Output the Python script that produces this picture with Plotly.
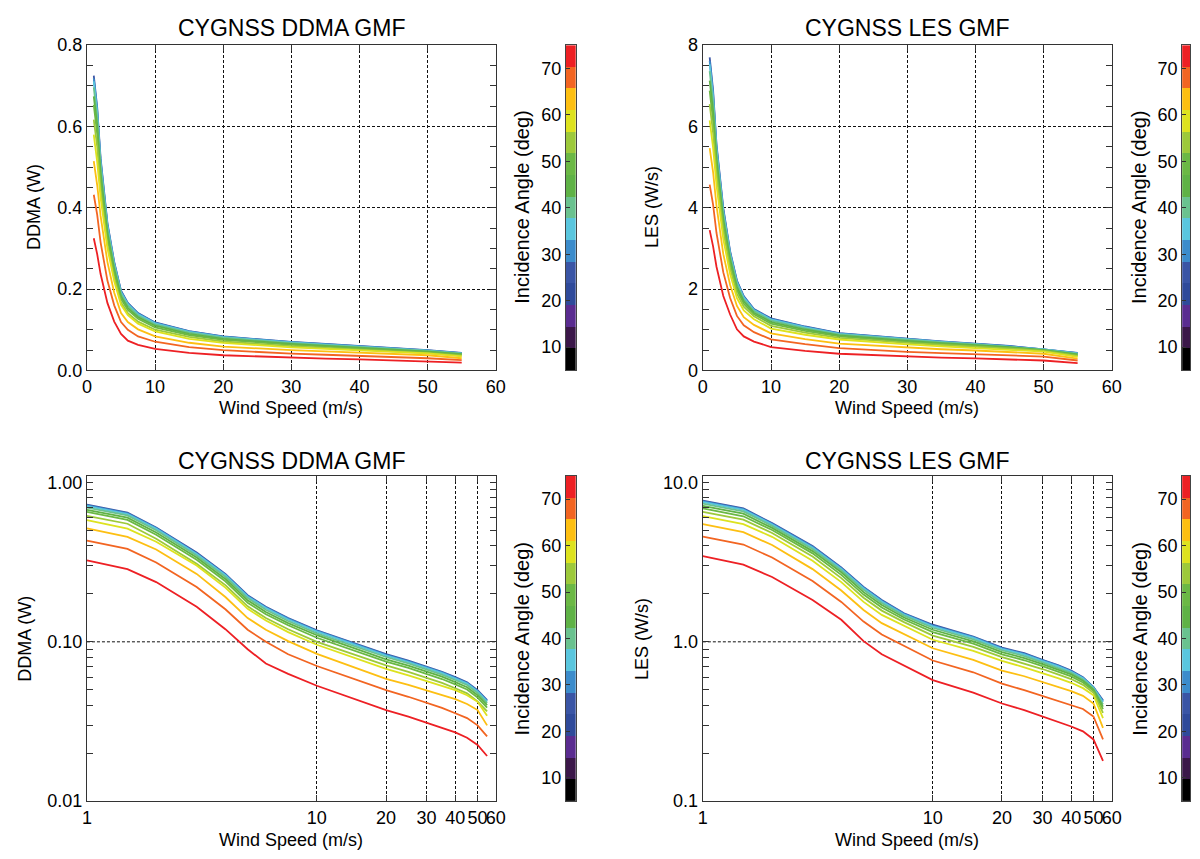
import plotly.graph_objects as go

# ---------------------------------------------------------------- data
wind_speed = [1, 1.5, 2, 3, 4, 5, 6, 7.5, 10, 15, 20, 25, 30, 35, 40, 45, 50, 55]

# incidence angle (deg) of each GMF curve
incidence_angle = [26, 31, 35, 40, 45, 49, 54, 59, 63, 68, 73]

# DDMA GMF (W), one list per incidence angle
ddma_26 = [0.725, 0.647, 0.522, 0.363, 0.267, 0.196, 0.166, 0.141, 0.118, 0.0968, 0.0836, 0.0762, 0.0700, 0.0649, 0.0600, 0.0558, 0.0497, 0.0430]
ddma_31 = [0.718, 0.641, 0.517, 0.359, 0.264, 0.194, 0.164, 0.140, 0.117, 0.0958, 0.0828, 0.0754, 0.0693, 0.0643, 0.0594, 0.0552, 0.0492, 0.0426]
ddma_35 = [0.711, 0.634, 0.512, 0.356, 0.262, 0.192, 0.163, 0.138, 0.116, 0.0949, 0.0819, 0.0747, 0.0686, 0.0636, 0.0588, 0.0547, 0.0487, 0.0421]
ddma_40 = [0.696, 0.621, 0.501, 0.348, 0.256, 0.188, 0.159, 0.135, 0.113, 0.0929, 0.0803, 0.0732, 0.0672, 0.0623, 0.0576, 0.0536, 0.0477, 0.0413]
ddma_45 = [0.674, 0.602, 0.485, 0.338, 0.248, 0.182, 0.154, 0.131, 0.110, 0.0900, 0.0777, 0.0709, 0.0651, 0.0604, 0.0558, 0.0519, 0.0462, 0.0400]
ddma_49 = [0.653, 0.582, 0.470, 0.327, 0.240, 0.176, 0.149, 0.127, 0.106, 0.0871, 0.0752, 0.0686, 0.0630, 0.0584, 0.0540, 0.0502, 0.0447, 0.0387]
ddma_54 = [0.617, 0.551, 0.444, 0.309, 0.227, 0.167, 0.141, 0.120, 0.100, 0.0824, 0.0711, 0.0648, 0.0596, 0.0552, 0.0511, 0.0475, 0.0423, 0.0366]
ddma_59 = [0.580, 0.513, 0.425, 0.301, 0.219, 0.161, 0.136, 0.115, 0.0958, 0.0778, 0.0676, 0.0616, 0.0566, 0.0531, 0.0497, 0.0462, 0.0420, 0.0344]
ddma_63 = [0.515, 0.456, 0.380, 0.267, 0.191, 0.141, 0.119, 0.101, 0.0840, 0.0680, 0.0586, 0.0537, 0.0497, 0.0466, 0.0437, 0.0407, 0.0373, 0.0299]
ddma_68 = [0.432, 0.383, 0.315, 0.221, 0.160, 0.119, 0.100, 0.0836, 0.0705, 0.0575, 0.0497, 0.0452, 0.0414, 0.0385, 0.0356, 0.0332, 0.0299, 0.0255]
ddma_73 = [0.325, 0.286, 0.237, 0.166, 0.120, 0.0898, 0.0731, 0.0629, 0.0530, 0.0432, 0.0373, 0.0339, 0.0309, 0.0289, 0.0270, 0.0250, 0.0225, 0.0192]

# LES GMF (W/s), one list per incidence angle
les_26 = [7.70, 6.89, 5.56, 3.99, 2.93, 2.21, 1.83, 1.51, 1.28, 1.080, 0.919, 0.848, 0.771, 0.715, 0.659, 0.600, 0.520, 0.430]
les_31 = [7.61, 6.81, 5.50, 3.95, 2.90, 2.19, 1.81, 1.50, 1.266, 1.069, 0.910, 0.839, 0.764, 0.708, 0.654, 0.595, 0.517, 0.424]
les_35 = [7.53, 6.73, 5.45, 3.90, 2.87, 2.16, 1.79, 1.48, 1.25, 1.058, 0.901, 0.831, 0.757, 0.702, 0.648, 0.590, 0.514, 0.417]
les_40 = [7.36, 6.58, 5.34, 3.82, 2.81, 2.12, 1.75, 1.46, 1.225, 1.036, 0.885, 0.814, 0.742, 0.688, 0.638, 0.581, 0.509, 0.405]
les_45 = [7.13, 6.37, 5.19, 3.71, 2.73, 2.05, 1.70, 1.42, 1.19, 1.006, 0.861, 0.791, 0.724, 0.671, 0.624, 0.570, 0.501, 0.392]
les_49 = [6.88, 6.14, 5.03, 3.59, 2.63, 1.98, 1.64, 1.38, 1.15, 0.973, 0.835, 0.766, 0.703, 0.651, 0.607, 0.556, 0.492, 0.378]
les_54 = [6.55, 5.84, 4.82, 3.43, 2.51, 1.89, 1.57, 1.33, 1.095, 0.930, 0.802, 0.733, 0.675, 0.625, 0.584, 0.537, 0.479, 0.358]
les_59 = [6.15, 5.48, 4.56, 3.23, 2.37, 1.78, 1.475, 1.26, 1.03, 0.877, 0.760, 0.692, 0.638, 0.591, 0.553, 0.512, 0.462, 0.332]
les_63 = [5.47, 4.88, 4.05, 2.86, 2.10, 1.585, 1.31, 1.12, 0.911, 0.771, 0.659, 0.608, 0.558, 0.520, 0.490, 0.458, 0.410, 0.288]
les_68 = [4.57, 4.08, 3.38, 2.41, 1.78, 1.34, 1.11, 0.94, 0.763, 0.644, 0.546, 0.497, 0.458, 0.427, 0.401, 0.379, 0.340, 0.244]
les_73 = [3.45, 3.05, 2.55, 1.83, 1.375, 1.01, 0.836, 0.708, 0.575, 0.480, 0.410, 0.373, 0.340, 0.316, 0.294, 0.274, 0.244, 0.179]

ddma_curves = [ddma_26, ddma_31, ddma_35, ddma_40, ddma_45, ddma_49, ddma_54, ddma_59, ddma_63, ddma_68, ddma_73]
les_curves = [les_26, les_31, les_35, les_40, les_45, les_49, les_54, les_59, les_63, les_68, les_73]

# discrete colour table for incidence angle (15 equal bands from 5 to 75 deg)
angle_min, angle_max = 5.0, 75.0
band_colors = ["#000000", "#3b1749", "#5a2c90", "#2f4a9a", "#3a55a5", "#3c8ccb", "#5ac6de",
               "#6ac28f", "#5fb246", "#6bb845", "#9dc93b", "#dde21f", "#fdbf12", "#f26522", "#ed2024"]
colorbar_ticks = [10, 20, 30, 40, 50, 60, 70]

# ---------------------------------------------------------------- helpers
W, H = 1200, 859
FONT = "Liberation Sans, Arial, Helvetica, sans-serif"
nb = len(band_colors)
band_w = (angle_max - angle_min) / nb
band_edges = [angle_min + i * band_w for i in range(nb + 1)]


def angle_color(a):
    i = int((a - angle_min) // band_w)
    return band_colors[max(0, min(nb - 1, i))]


def xp(p):
    return p / W


def yp(p):
    return 1 - p / H


discrete_scale = []
for i, c in enumerate(band_colors):
    discrete_scale.append([i / nb, c])
    discrete_scale.append([(i + 1) / nb, c])

fig = go.Figure()

# GMF curves in the four panels
panels = [("x", "y", ddma_curves), ("x2", "y2", les_curves),
          ("x3", "y3", ddma_curves), ("x4", "y4", les_curves)]
for xa, ya, curves in panels:
    for ang, vals in zip(incidence_angle, curves):
        fig.add_trace(go.Scatter(
            x=wind_speed, y=vals, mode="lines", xaxis=xa, yaxis=ya,
            line=dict(color=angle_color(ang), width=1.8),
            showlegend=False, hoverinfo="skip"))

# colour bars drawn as one-column heatmaps
for xa, ya in [("x5", "y5"), ("x6", "y6"), ("x7", "y7"), ("x8", "y8")]:
    fig.add_trace(go.Heatmap(
        z=[[i] for i in range(nb)], x=[0, 1], y=band_edges,
        colorscale=discrete_scale, zmin=-0.5, zmax=nb - 0.5,
        showscale=False, xaxis=xa, yaxis=ya, hoverinfo="skip"))

tickfont = dict(family=FONT, size=18, color="black")
grid = dict(showgrid=True, gridcolor="#111", gridwidth=1, griddash="3px,2px")
frame = dict(showline=True, linecolor="#333", linewidth=1.3, mirror="ticks",
             ticks="inside", ticklen=6, tickcolor="#333", tickfont=tickfont,
             zeroline=False, tickangle=0)

left_x = [xp(83), xp(497)]
right_x = [xp(706.7), xp(1120.7)]
top_y = [yp(369), yp(36)]
bot_y = [yp(810), yp(477)]
lin_x = dict(range=[0, 60], tickvals=[0, 10, 20, 30, 40, 50, 60], **grid, **frame)
log_x = dict(type="log", range=[0, 1.7782], tickvals=[1, 10, 20, 30, 40, 50, 60],
             ticktext=["1", "10", "20", "30", "40", "50", "60"], **grid, **frame)

minor_log = dict(ticks="inside", ticklen=6, tickcolor="#333", showgrid=False)
ddma_minor = [m * 10 ** e for e in (-2, -1) for m in range(2, 10)]
les_minor = [m * 10 ** e for e in (-1, 0) for m in range(2, 10)]

fig.update_layout(
    width=W, height=H, margin=dict(l=0, r=0, t=0, b=0),
    paper_bgcolor="white", plot_bgcolor="white",
    font=dict(family=FONT, color="black"),
    xaxis=dict(domain=left_x, anchor="y", **lin_x),
    yaxis=dict(domain=top_y, anchor="x", range=[0, 0.8], tickvals=[0, 0.2, 0.4, 0.6, 0.8],
               ticktext=["0.0", "0.2", "0.4", "0.6", "0.8"],
               minor=dict(dtick=0.05, ticks="inside", ticklen=6, tickcolor="#333", showgrid=False),
               **grid, **frame),
    xaxis2=dict(domain=right_x, anchor="y2", **lin_x),
    yaxis2=dict(domain=top_y, anchor="x2", range=[0, 8], tickvals=[0, 2, 4, 6, 8],
                minor=dict(dtick=0.5, ticks="inside", ticklen=6, tickcolor="#333", showgrid=False),
                **grid, **frame),
    xaxis3=dict(domain=left_x, anchor="y3", **log_x),
    yaxis3=dict(domain=bot_y, anchor="x3", type="log", range=[-2, 0.0414],
                tickvals=[0.01, 0.1, 1.0], ticktext=["0.01", "0.10", "1.00"],
                minor=dict(tickvals=ddma_minor, **minor_log), showgrid=False, **frame),
    xaxis4=dict(domain=right_x, anchor="y4", **log_x),
    yaxis4=dict(domain=bot_y, anchor="x4", type="log", range=[-1, 1.0414],
                tickvals=[0.1, 1.0, 10.0], ticktext=["0.1", "1.0", "10.0"],
                minor=dict(tickvals=les_minor, **minor_log), showgrid=False, **frame),
)

# horizontal dashed reference lines on the log panels
for ya, xa, val in [("y3", "x3", 0.1), ("y4", "x4", 1.0)]:
    fig.add_shape(type="line", xref=f"{xa} domain", x0=0, x1=1, yref=ya, y0=val, y1=val,
                  line=dict(color="#111", width=1, dash="3px,2px"), layer="below")

# colour bar axes
cb_left = [xp(568), xp(578)]
cb_right = [xp(1192), 1.0]
for idx, (dx, dy) in zip([5, 6, 7, 8], [(cb_left, top_y), (cb_right, top_y), (cb_left, bot_y), (cb_right, bot_y)]):
    fig.update_layout({
        f"xaxis{idx}": dict(domain=dx, anchor=f"y{idx}", range=[0, 1], showticklabels=False,
                            ticks="", showgrid=False, zeroline=False, showline=True,
                            linecolor="#444", linewidth=1, mirror=True),
        f"yaxis{idx}": dict(domain=dy, anchor=f"x{idx}", range=[angle_min, angle_max],
                            tickvals=colorbar_ticks, side="left", ticks="inside", ticklen=4,
                            tickcolor="#333", tickfont=tickfont, showgrid=False, zeroline=False,
                            showline=True, linecolor="#444", linewidth=1, mirror=True),
    })


# titles and axis labels
def label(text, x, y, size=18, angle=0):
    fig.add_annotation(text=text, x=x, y=y, xref="paper", yref="paper", showarrow=False,
                       xanchor="center", yanchor="middle", textangle=angle,
                       font=dict(family=FONT, size=size, color="black"))


for cx, name in [(290, "CYGNSS DDMA GMF"), (913.7, "CYGNSS LES GMF")]:
    label(name, xp(cx), yp(18), size=23)
    label(name, xp(cx), yp(462), size=23)
    label("Wind Speed (m/s)", xp(cx), yp(407), size=18)
    label("Wind Speed (m/s)", xp(cx), yp(850), size=18)

label("DDMA (W)", xp(30), yp(202), angle=-90)
label("DDMA (W)", xp(20), yp(644), angle=-90)
label("LES (W/s)", xp(655), yp(202), angle=-90)
label("LES (W/s)", xp(645), yp(644), angle=-90)
for cx in (524, 1149):
    label("Incidence Angle (deg)", xp(cx), yp(202), size=20, angle=-90)
    label("Incidence Angle (deg)", xp(cx), yp(644), size=20, angle=-90)

fig.write_html("out.html")
